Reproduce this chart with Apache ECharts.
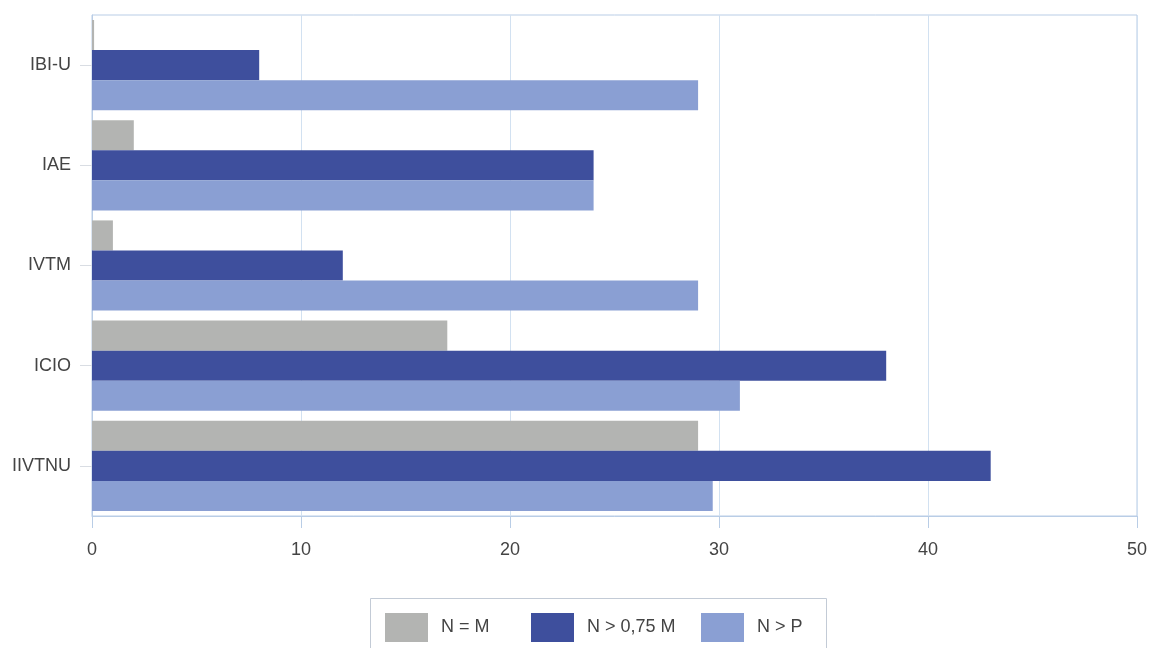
<!DOCTYPE html>
<html>
<head>
<meta charset="utf-8">
<title>Indicadores</title>
<script src="https://cdn.jsdelivr.net/npm/echarts@6/dist/echarts.min.js"></script>
<style>
  html, body { margin: 0; padding: 0; background: #ffffff; }
  #chart { width: 1150px; height: 648px; }
</style>
</head>
<body>
<div id="chart"></div>
<script>
// Categories, top to bottom
const categories = ['IBI-U', 'IAE', 'IVTM', 'ICIO', 'IIVTNU'];

// Series values
const seriesNames = ['N = M', 'N > 0,75 M', 'N > P'];
const valuesEqualM = [0.1, 2, 1, 17, 29];
const valuesOver075M = [8, 24, 12, 38, 43];
const valuesOverP = [29, 24, 29, 31, 29.7];

// Axis ticks
const xTicks = [0, 10, 20, 30, 40, 50];

const colors = ['#b3b4b2', '#3e4f9d', '#8a9fd3'];
const frameColor = '#b9cde6';
const textColor = '#444444';
const fontSize = 18;

// left edge of each legend entry (legend entries sit in fixed columns)
const legendLefts = [385, 531, 701];

const chart = echarts.init(document.getElementById('chart'), null, { renderer: 'canvas' });

const seriesData = [valuesEqualM, valuesOver075M, valuesOverP];

chart.setOption({
  animation: false,
  textStyle: { fontFamily: 'Liberation Sans, Arial, sans-serif' },
  color: colors,
  grid: {
    left: 92, right: 13, top: 15, bottom: 132,
    show: true, borderColor: frameColor, borderWidth: 1, backgroundColor: 'transparent'
  },
  // frame around the legend entries
  graphic: [{
    type: 'rect',
    shape: { x: 370.5, y: 598.5, width: 456, height: 70 },
    style: { fill: 'none', stroke: '#c3cbd6', lineWidth: 1 },
    silent: true
  }],
  legend: seriesNames.map((name, i) => ({
    data: [name],
    left: legendLefts[i], top: 613,
    orient: 'horizontal',
    itemWidth: 43, itemHeight: 29,
    icon: 'rect',
    padding: 0,
    textStyle: { fontSize: fontSize, color: textColor, padding: [0, 0, 0, 8] }
  })),
  xAxis: {
    type: 'value',
    min: xTicks[0], max: xTicks[xTicks.length - 1], interval: 10,
    axisLine: { show: true, lineStyle: { color: frameColor } },
    axisTick: { show: true, length: 12, lineStyle: { color: frameColor } },
    splitLine: { show: true, lineStyle: { color: '#d2e1f1' } },
    axisLabel: { fontSize: fontSize, color: textColor, margin: 25 }
  },
  yAxis: {
    type: 'category',
    data: categories,
    inverse: true,
    axisLine: { show: true, lineStyle: { color: frameColor } },
    axisTick: { show: true, alignWithLabel: true, length: 12, inside: false, lineStyle: { color: '#d9dde3' } },
    axisLabel: { fontSize: fontSize, color: textColor, margin: 21 },
    splitLine: { show: false }
  },
  series: seriesNames.map((name, i) => ({
    name: name,
    type: 'bar',
    data: seriesData[i],
    barGap: '0%',
    barCategoryGap: '10%',
    itemStyle: { color: colors[i] }
  }))
});
</script>
</body>
</html>
